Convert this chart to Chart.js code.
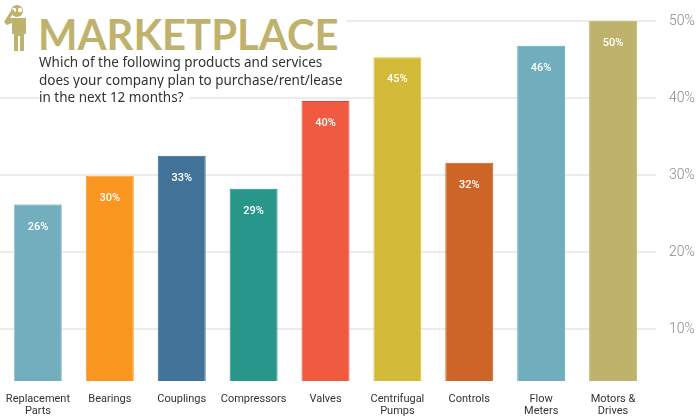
<!DOCTYPE html>
<html lang="en">
<head>
    <meta charset="UTF-8">
    <title>Marketplace</title>
    <script src="https://cdn.jsdelivr.net/npm/chart.js"></script>
    <style>
        body { margin: 0; background: #fff; }
        #wrap { position: relative; width: 700px; height: 420px; overflow: hidden; }
        #head { position: absolute; left: 0; top: 0; width: 346px; height: 90px; background: #fff; }
        #head svg { position: absolute; left: 0; top: 0; }
        #brand { position: absolute; left: 38px; top: 8px; font: 700 41.8px Lato, sans-serif; color: #bfb26d; line-height: 52px; white-space: nowrap; }
        #question { position: absolute; left: 39px; top: 54px; font: 13.5px/17.5px "Noto Sans", sans-serif; color: #333; white-space: nowrap; }
        #question span { background: #fff; padding-right: 6px; }
    </style>
</head>
<body>
    <div id="wrap">
        <canvas id="marketChart" width="700" height="420"></canvas>
        <div id="head">
            <svg width="38" height="54" viewBox="0 0 38 54">
                <circle cx="17" cy="11" r="6" fill="#bfb26d"/>
                <circle cx="14" cy="10" r="2.2" fill="#fff"/>
                <circle cx="20" cy="10" r="2.2" fill="#fff"/>
                <path d="M4 22 L12 9 L15 11 L10 18 H26 V34 H24 V51 H20 V36 H18 V51 H14 V34 H12 V23 L7 25 Z" fill="#bfb26d"/>
            </svg>
            <div id="brand">MARKETPLACE</div>
            <div id="question">Which of the following products and services<br>does your company plan to purchase/rent/lease<br><span>in the next 12 months?</span></div>
        </div>
    </div>

    <script>
        const categories = [['Replacement', 'Parts'], 'Bearings', 'Couplings', 'Compressors', 'Valves', ['Centrifugal', 'Pumps'], 'Controls', ['Flow', 'Meters'], ['Motors &', 'Drives']];
        const barValues = [26.2, 29.9, 32.5, 28.2, 39.6, 45.3, 31.6, 46.8, 50];
        const barLabels = ['26%', '30%', '33%', '29%', '40%', '45%', '32%', '46%', '50%'];
        const barColors = ['#72aebd', '#f99620', '#437299', '#28968a', '#f05a40', '#d3bb39', '#cc6527', '#70aebd', '#bfb26d'];
        const edgeColors = ['#9cc7d2', '#f9a03a', '#2d6792', '#1f8e82', '#ee3d3a', '#d8c02e', '#c95a26', '#5aa9bd', '#c9bd7c'];
        const tickValues = [10, 20, 30, 40, 50];

        // white percentages inside the top of each bar
        const barText = {
            id: 'barText',
            afterDatasetsDraw(chart) {
                const c = chart.ctx;
                c.save();
                c.fillStyle = '#fff';
                c.font = '500 11px Roboto, sans-serif';
                c.textAlign = 'center';
                c.textBaseline = 'middle';
                chart.getDatasetMeta(0).data.forEach((bar, i) => {
                    c.fillText(barLabels[i], bar.x, bar.y + 22.5);
                });
                c.restore();
            }
        };

        // grid runs wider than the plot area on both sides
        const wideGrid = {
            id: 'wideGrid',
            beforeDatasetsDraw(chart) {
                const c = chart.ctx;
                const y = chart.scales.y;
                c.save();
                c.strokeStyle = '#e6e6e6';
                c.lineWidth = 1.5;
                tickValues.forEach(v => {
                    const py = y.getPixelForValue(v);
                    c.beginPath();
                    c.moveTo(0, py);
                    c.lineTo(656, py);
                    c.stroke();
                });
                c.restore();
            }
        };

        new Chart(document.getElementById('marketChart'), {
            type: 'bar',
            data: {
                labels: categories,
                datasets: [{
                    data: barValues,
                    backgroundColor: barColors,
                    borderColor: edgeColors,
                    borderWidth: 1,
                    categoryPercentage: 1,
                    barPercentage: 0.667
                }]
            },
            options: {
                responsive: false,
                animation: false,
                layout: { padding: { left: 2, top: 21 } },
                plugins: { legend: { display: false }, tooltip: { enabled: false } },
                scales: {
                    x: {
                        grid: { display: false },
                        border: { display: false },
                        ticks: { color: '#333', font: { family: 'Roboto', size: 11, lineHeight: 1.1 }, maxRotation: 0, autoSkip: false, padding: 4 },
                        afterFit(s) { s.height = 39; s.paddingLeft = 0; s.paddingRight = 0; }
                    },
                    y: {
                        position: 'right',
                        min: 3.25,
                        max: 50,
                        grid: { display: false },
                        border: { display: false },
                        afterBuildTicks(s) { s.ticks = tickValues.map(v => ({ value: v })); },
                        afterFit(s) { s.width = 51; s.paddingTop = 0; s.paddingBottom = 0; },
                        ticks: {
                            color: '#8a8a8a',
                            font: { family: 'Roboto', size: 14, weight: 300 },
                            padding: 12,
                            callback: v => v + '%'
                        }
                    }
                }
            },
            plugins: [wideGrid, barText]
        });
    </script>
</body>
</html>
